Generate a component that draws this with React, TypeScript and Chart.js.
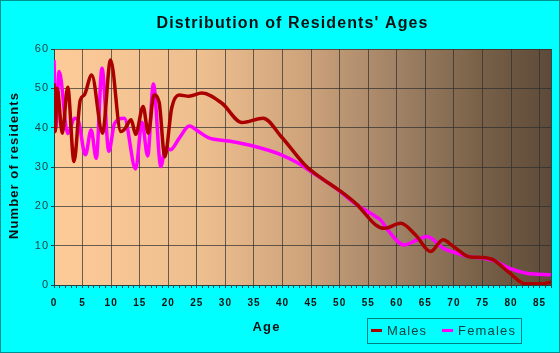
import React, { useEffect, useRef } from "react";
import { Chart, registerables } from "chart.js";

Chart.register(...registerables);

const maleAges = [0, 0.2, 0.55, 1.45, 2.4, 3.5, 4.6, 5.3, 6.6, 8.5, 9.9, 11.7, 12.4, 13.5, 14.3, 15.6, 16.5, 17.5, 18.4, 19.4, 20.6, 21.9, 23.6, 25.9, 29.4, 32.9, 36.6, 39.8, 44.2, 47, 50, 53, 56.3, 57.8, 60.7, 63.3, 65.9, 68.1, 70, 72.6, 74.9, 76.9, 79.8, 82.5, 85.2, 87];
const maleValues = [51.3, 39, 50, 38.6, 50.3, 31.4, 47, 48.3, 53.4, 38.6, 57.2, 39, 39.7, 42, 38.3, 45.4, 38.6, 48.3, 46.5, 32.6, 45, 48.3, 48, 48.8, 46.2, 41.3, 42.4, 37.7, 30.1, 27, 24, 20.5, 15.3, 14.4, 15.7, 12.7, 8.5, 11.5, 9.7, 7.2, 7.0, 6.4, 3.0, 0.3, 0.3, 0.7];

const femaleAges = [0, 0.35, 0.9, 2.4, 3.6, 4.2, 5.5, 6.5, 7.4, 8.4, 9.6, 10.6, 12.3, 14.3, 15.4, 16.4, 17.4, 18.7, 19.5, 20.4, 21.9, 23.7, 25.3, 27.1, 30.6, 35.2, 39.8, 42.7, 45, 49.7, 52.6, 56.3, 57.2, 58.4, 61.3, 63.6, 65.3, 68.2, 70.5, 72.8, 75.2, 77.5, 79.8, 82.7, 87];
const femaleValues = [57.2, 40, 54.3, 38.5, 42.4, 42, 33.1, 39.4, 32.2, 55.1, 34, 41.1, 42.4, 29.5, 41.4, 32.8, 51.1, 30.1, 34.8, 34.4, 37.3, 40.4, 39, 37.4, 36.6, 35.2, 33.1, 31, 28.8, 24.2, 20.8, 17.4, 16.5, 14, 10.2, 11.5, 12.3, 9.3, 8.1, 7.2, 6.8, 5.9, 4.2, 3.0, 2.6];

const seriesNames = ["Males", "Females"];
const seriesColors = ["#AA0000", "#FF00FF"];
const titleText = "Distribution of Residents' Ages";
const xTitle = "Age";
const yTitle = "Number of residents";
const xMin = 0;
const xMax = 87;
const yMin = 0;
const yMax = 60;

const FONT = "'Liberation Sans', Arial, Helvetica, sans-serif";

function drawSpaced(
  ctx: CanvasRenderingContext2D,
  text: string,
  cx: number,
  cy: number,
  font: string,
  targetWidth: number,
  color: string
) {
  ctx.save();
  ctx.font = font;
  ctx.fillStyle = color;
  ctx.textBaseline = "middle";
  ctx.textAlign = "left";
  const chars = Array.from(text);
  const widths = chars.map((c) => ctx.measureText(c).width);
  const total = widths.reduce((a, b) => a + b, 0);
  const spacing = chars.length > 1 ? Math.max(0, (targetWidth - total) / (chars.length - 1)) : 0;
  let x = cx - (total + spacing * (chars.length - 1)) / 2;
  chars.forEach((c, i) => {
    ctx.fillText(c, x, cy);
    x += widths[i] + spacing;
  });
  ctx.restore();
}

const decorPlugin = {
  id: "decor",
  beforeDraw(chart: any) {
    const { ctx, chartArea, width, height } = chart;
    ctx.save();
    ctx.fillStyle = "#00FFFF";
    ctx.fillRect(0, 0, width, height);
    ctx.strokeStyle = "#009090";
    ctx.lineWidth = 1;
    ctx.strokeRect(0.5, 0.5, width - 1, height - 1);
    const g = ctx.createLinearGradient(chartArea.left, 0, chartArea.right, 0);
    g.addColorStop(0, "#FDCB98");
    g.addColorStop(0.3, "#EDBE8E");
    g.addColorStop(0.5, "#CFA47C");
    g.addColorStop(0.7, "#9E8064");
    g.addColorStop(0.85, "#7A6249");
    g.addColorStop(1, "#5D4A39");
    ctx.fillStyle = g;
    ctx.fillRect(chartArea.left, chartArea.top, chartArea.right - chartArea.left, chartArea.bottom - chartArea.top);
    ctx.restore();
    ctx.letterSpacing = "1px";
  },
  beforeDatasetsDraw(chart: any) {
    const { ctx, chartArea } = chart;
    ctx.letterSpacing = "0px";
    ctx.save();
    ctx.strokeStyle = "rgba(40,40,40,0.8)";
    ctx.lineWidth = 1;
    ctx.beginPath();
    ctx.moveTo(Math.round(chartArea.right) + 0.5, chartArea.top);
    ctx.lineTo(Math.round(chartArea.right) + 0.5, chartArea.bottom);
    ctx.stroke();
    ctx.restore();
  },
  afterDraw(chart: any) {
    const { ctx } = chart;
    // title
    drawSpaced(ctx, titleText, 292, 24, `bold 16px ${FONT}`, 271, "#111111");
    // x title
    drawSpaced(ctx, xTitle, 266, 327, `bold 13px ${FONT}`, 27, "#111111");
    // y title
    ctx.save();
    ctx.translate(14, 166);
    ctx.rotate(-Math.PI / 2);
    drawSpaced(ctx, yTitle, 0, 0, `bold 13px ${FONT}`, 146, "#111111");
    ctx.restore();
    // legend
    ctx.save();
    ctx.strokeStyle = "#008080";
    ctx.lineWidth = 1;
    ctx.strokeRect(367.5, 318.5, 154, 25);
    const items = [
      { name: seriesNames[0], color: seriesColors[0], lx: 371, tx: 406.5, tw: 39 },
      { name: seriesNames[1], color: seriesColors[1], lx: 442, tx: 486.5, tw: 57 },
    ];
    items.forEach((it) => {
      ctx.strokeStyle = it.color;
      ctx.lineWidth = 3;
      ctx.beginPath();
      ctx.moveTo(it.lx, 330.5);
      ctx.lineTo(it.lx + 11, 330.5);
      ctx.stroke();
      drawSpaced(ctx, it.name, it.tx, 331, `13px ${FONT}`, it.tw, "#114040");
    });
    ctx.restore();
  },
};

export default function App() {
  const canvasRef = useRef<HTMLCanvasElement | null>(null);

  useEffect(() => {
    const canvas = canvasRef.current;
    if (!canvas) return;
    const maleData = maleAges.map((a, i) => ({ x: a, y: maleValues[i] }));
    const femaleData = femaleAges.map((a, i) => ({ x: a, y: femaleValues[i] }));
    const chart = new Chart(canvas, {
      type: "line",
      data: {
        datasets: [
          {
            label: seriesNames[0],
            data: maleData,
            borderColor: seriesColors[0],
            backgroundColor: seriesColors[0],
            borderWidth: 3.5,
            pointRadius: 0,
            cubicInterpolationMode: "monotone",
            fill: false,
          },
          {
            label: seriesNames[1],
            data: femaleData,
            borderColor: seriesColors[1],
            backgroundColor: seriesColors[1],
            borderWidth: 3.5,
            pointRadius: 0,
            cubicInterpolationMode: "monotone",
            fill: false,
          },
        ],
      },
      options: {
        responsive: false,
        devicePixelRatio: 1,
        animation: false,
        events: [],
        layout: { padding: { top: 49, right: 5, left: 0, bottom: 0 } },
        plugins: {
          legend: { display: false },
          title: { display: false },
          tooltip: { enabled: false },
        },
        scales: {
          x: {
            type: "linear",
            min: xMin,
            max: xMax,
            afterFit(scale: any) {
              scale.height = 68;
            },
            afterBuildTicks(scale: any) {
              const t = [];
              for (let v = xMin; v <= xMax; v++) t.push({ value: v });
              scale.ticks = t;
            },
            ticks: {
              autoSkip: false,
              maxRotation: 0,
              minRotation: 0,
              padding: 9,
              color: "#111111",
              font: { family: FONT, size: 10, weight: "bold" },
              callback: (v: any) => (Number(v) % 5 === 0 ? String(v) : ""),
            },
            grid: {
              color: (c: any) => (c.tick && c.tick.value % 5 === 0 && c.tick.value !== 0 ? "rgba(45,45,45,0.7)" : "rgba(0,0,0,0)"),
              tickColor: "#224444",
              tickLength: 3,
              lineWidth: 1,
            },
            border: { display: true, color: "#224444", width: 1 },
          },
          y: {
            min: yMin,
            max: yMax,
            afterFit(scale: any) {
              scale.width = 54;
            },
            ticks: {
              stepSize: 10,
              padding: 2,
              color: "#224444",
              font: { family: FONT, size: 11 },
            },
            grid: {
              color: (c: any) => (c.tick && c.tick.value !== 0 ? "rgba(45,45,45,0.7)" : "rgba(0,0,0,0)"),
              tickColor: "#224444",
              tickLength: 3,
              lineWidth: 1,
            },
            border: { display: true, color: "#224444", width: 1 },
          },
        },
      },
      plugins: [decorPlugin],
    });
    return () => chart.destroy();
  }, []);

  return (
    <div style={{ position: "fixed", left: 0, top: 0, width: 560, height: 353, margin: 0 }}>
      <canvas ref={canvasRef} width={560} height={353} style={{ width: 560, height: 353, display: "block" }} />
    </div>
  );
}
